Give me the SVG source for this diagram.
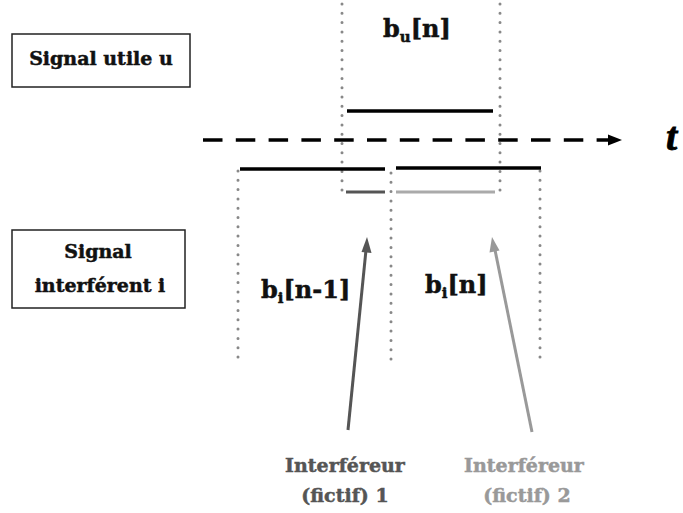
<svg xmlns="http://www.w3.org/2000/svg" width="683" height="513" viewBox="0 0 683 513">
<style>
.box{fill:#fff;stroke:#222;stroke-width:1.5}
.t{font-family:"DejaVu Serif","Liberation Serif",serif;font-weight:bold;fill:#111;stroke:#111;stroke-width:0.5}
.dot{stroke:#888;stroke-width:3;stroke-linecap:round;stroke-dasharray:0 9.3;fill:none}
.seg{stroke:#000;stroke-width:3.5;fill:none}
</style>
<rect width="683" height="513" fill="#fff"/>
<g id="box-utile">
<rect class="box" x="12" y="34" width="178" height="53"/>
<text class="t" x="101" y="65" font-size="19" text-anchor="middle">Signal utile u</text>
</g>
<g id="box-interferent">
<rect class="box" x="12" y="230" width="173" height="78"/>
<text class="t" x="98" y="258" font-size="19" text-anchor="middle">Signal</text>
<text class="t" x="100" y="292" font-size="19" text-anchor="middle">interférent i</text>
</g>
<g id="guides">
<line class="dot" x1="342" y1="4" x2="342" y2="193"/>
<line class="dot" x1="500" y1="4" x2="500" y2="193"/>
<line class="dot" x1="238" y1="171" x2="238" y2="359"/>
<line class="dot" x1="391" y1="173" x2="391" y2="362"/>
<line class="dot" x1="540" y1="171" x2="540" y2="359"/>
</g>
<g id="axis">
<line x1="203" y1="140" x2="610" y2="140" stroke="#000" stroke-width="3.5" stroke-dasharray="19.5 13.3"/>
<polygon points="608,134.5 622,140 608,145.5" fill="#000"/>
<text x="666" y="150" font-family="Liberation Serif,serif" font-weight="bold" font-style="italic" font-size="40" fill="#000" stroke="#000" stroke-width="0.8">t</text>
</g>
<g id="symbols">
<line class="seg" x1="347" y1="111" x2="493" y2="111"/>
<line class="seg" x1="240" y1="169" x2="385" y2="169"/>
<line class="seg" x1="396" y1="168" x2="541" y2="168"/>
<line x1="346" y1="192" x2="385" y2="192" stroke="#555" stroke-width="3"/>
<line x1="396" y1="192" x2="495" y2="192" stroke="#aaa" stroke-width="3"/>
</g>
<g id="labels">
<text class="t" x="383" y="37" font-size="24">b<tspan font-size="15" dy="5">u</tspan><tspan dy="-5">[n]</tspan></text>
<text class="t" x="261" y="298" font-size="24">b<tspan font-size="15" dy="5">i</tspan><tspan dy="-5">[n-1]</tspan></text>
<text class="t" x="425" y="293" font-size="24">b<tspan font-size="15" dy="5">i</tspan><tspan dy="-5">[n]</tspan></text>
</g>
<g id="connectors">
<line x1="348" y1="430" x2="366" y2="250" stroke="#555" stroke-width="3"/>
<polygon points="367,237 361.5,252 371.5,253" fill="#555"/>
<line x1="532" y1="432" x2="495" y2="250" stroke="#999" stroke-width="3"/>
<polygon points="492,237 489.5,252.5 499.5,250.5" fill="#999"/>
</g>
<g id="interfereur1">
<text class="t" x="345" y="472" font-size="19" text-anchor="middle" style="fill:#555;stroke:#555">Interféreur</text>
<text class="t" x="345" y="502" font-size="19" text-anchor="middle" style="fill:#555;stroke:#555">(fictif) 1</text>
</g>
<g id="interfereur2">
<text class="t" x="524" y="472" font-size="19" text-anchor="middle" style="fill:#999;stroke:#999">Interféreur</text>
<text class="t" x="527" y="502" font-size="19" text-anchor="middle" style="fill:#999;stroke:#999">(fictif) 2</text>
</g>
</svg>
